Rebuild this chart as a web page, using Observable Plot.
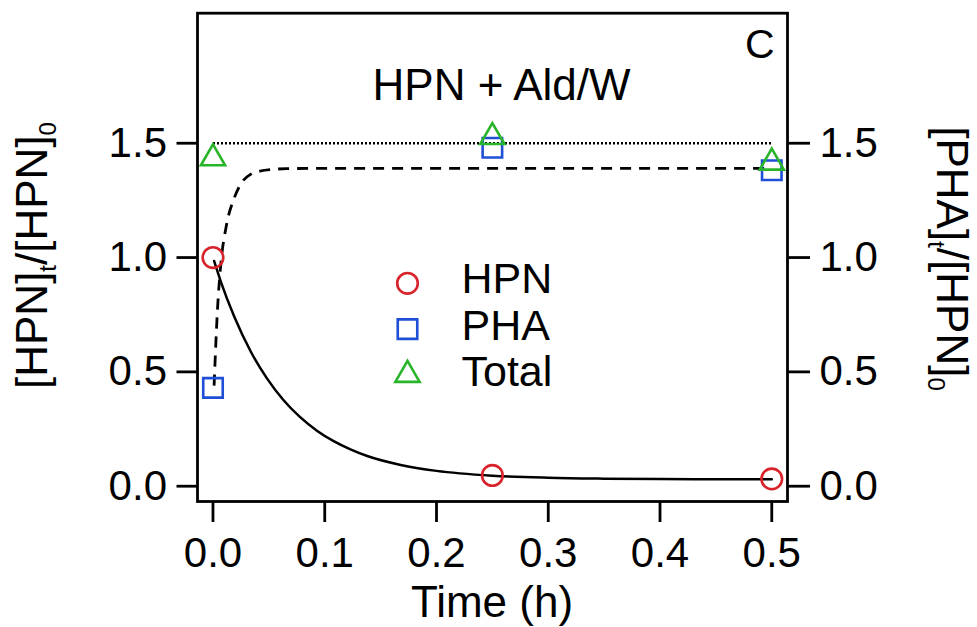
<!DOCTYPE html>
<html>
<head>
<meta charset="utf-8">
<script src="https://cdn.jsdelivr.net/npm/d3@7"></script>
<script src="https://cdn.jsdelivr.net/npm/@observablehq/plot@0.6"></script>
<style>
  html, body { margin: 0; padding: 0; background: #fff; }
  svg { display: block; }
</style>
</head>
<body>
<div id="chart"></div>
<script>
// ---- data ----
const time = [0, 0.25, 0.5];
const hpn = [1.0, 0.047, 0.032];
const pha = [0.43, 1.48, 1.382];
const total = [1.434, 1.527, 1.415];

// fitted curves
const hpnFitT = [0.001, 0.007, 0.019, 0.034, 0.048, 0.063, 0.078, 0.093, 0.108, 0.123, 0.138, 0.168, 0.2, 0.25, 0.3, 0.35, 0.4, 0.45, 0.5];
const hpnFitV = [0.985, 0.895, 0.742, 0.587, 0.474, 0.377, 0.302, 0.243, 0.197, 0.161, 0.132, 0.093, 0.067, 0.046, 0.037, 0.033, 0.031, 0.030, 0.030];
const phaFitT = [0.001, 0.004, 0.007, 0.012, 0.019, 0.026, 0.034, 0.042, 0.055, 0.066, 0.1, 0.2, 0.3, 0.4, 0.5];
const phaFitV = [0.44, 0.77, 0.97, 1.14, 1.26, 1.33, 1.365, 1.378, 1.386, 1.389, 1.39, 1.39, 1.39, 1.39, 1.39];
const totalFitT = [0, 0.5];
const totalFitV = [1.5, 1.5];

const xTicks = [0, 0.1, 0.2, 0.3, 0.4, 0.5];
const yTicks = [0, 0.5, 1.0, 1.5];
const legendLabels = ["HPN", "PHA", "Total"];

// ---- styles ----
const font = "'Liberation Sans', Arial, Helvetica, sans-serif";
const red = "#d8232b", blue = "#1e4fd6", green = "#28b52a";
const symbols = ["circle", "square", "triangle"];
const colors = [red, blue, green];
const radii = [10.3, 11, 9];

const pts = (xs, ys) => xs.map((t, i) => ({t, v: ys[i]}));

const marks = [
  Plot.line(pts(totalFitT, totalFitV), {x: "t", y: "v", stroke: "black", strokeWidth: 2.6, strokeDasharray: "2,2", strokeLinecap: "butt"}),
  Plot.line(pts(phaFitT, phaFitV), {x: "t", y: "v", stroke: "black", strokeWidth: 2.8, strokeDasharray: "11,8", strokeLinecap: "butt", curve: "monotone-x"}),
  Plot.line(pts(hpnFitT, hpnFitV), {x: "t", y: "v", stroke: "black", strokeWidth: 2.5, curve: "monotone-x"}),
  Plot.dot(pts(time, hpn), {x: "t", y: "v", symbol: "circle", r: radii[0], stroke: red, strokeWidth: 2.6, fill: "none"}),
  Plot.dot(pts(time, pha), {x: "t", y: "v", symbol: "square", r: radii[1], stroke: blue, strokeWidth: 2.6, fill: "none"}),
  Plot.dot(pts(time, total), {x: "t", y: "v", symbol: "triangle", r: radii[2], stroke: green, strokeWidth: 2.6, fill: "none"}),
  Plot.frame({stroke: "black", strokeWidth: 2.8}),
  Plot.axisY({anchor: "left", ticks: yTicks, tickFormat: ".1f", tickSize: 20.5, tickPadding: 10, fontSize: 42, strokeWidth: 2.8, label: null}),
  Plot.axisY({anchor: "right", ticks: yTicks, tickFormat: ".1f", tickSize: 22, tickPadding: 10, fontSize: 42, strokeWidth: 2.8, label: null}),
  Plot.axisX({anchor: "bottom", ticks: xTicks, tickFormat: ".1f", tickSize: 21, tickPadding: 15, fontSize: 42, strokeWidth: 2.8, label: null}),
  Plot.text(["HPN + Ald/W"], {text: d => d, frameAnchor: "top-left", lineAnchor: "middle", dx: 304, dy: 73, textAnchor: "middle", fontSize: 44}),
  Plot.text(["C"], {text: d => d, frameAnchor: "top-left", lineAnchor: "middle", dx: 577, dy: 31.4, textAnchor: "end", fontSize: 41})
];

legendLabels.forEach((lab, i) => {
  marks.push(Plot.dot([lab], {frameAnchor: "top-left", dx: 210, dy: 270.1 + 45.8 * i, symbol: symbols[i], r: radii[i], stroke: colors[i], strokeWidth: 2.6, fill: "none"}));
  marks.push(Plot.text([lab], {text: d => d, frameAnchor: "top-left", lineAnchor: "middle", dx: 264, dy: 266.4 + 46.5 * i, textAnchor: "start", fontSize: 43}));
});

const plot = Plot.plot({
  width: 977,
  height: 627,
  marginLeft: 197,
  marginRight: 190,
  marginTop: 12.7,
  marginBottom: 126,
  style: {fontFamily: font, background: "white", color: "black", overflow: "visible"},
  x: {domain: [-0.01385, 0.51407]},
  y: {domain: [-0.0669, 2.0687]},
  marks
});

const svg = d3.select(plot);

function addLabel(transform, parts) {
  const t = svg.append("text")
    .attr("transform", transform)
    .attr("text-anchor", "middle")
    .attr("font-family", font)
    .attr("font-size", 44)
    .attr("fill", "black");
  let shift = 0;
  parts.forEach(([s, sub]) => {
    const target = sub ? 9 : 0;
    t.append("tspan")
      .attr("font-size", sub ? 24 : 44)
      .attr("dy", target - shift)
      .text(s);
    shift = target;
  });
  return t;
}

addLabel("translate(47,255.5) rotate(-90)", [["[HPN]", false], ["t", true], ["/[HPN]", false], ["0", true]]);
addLabel("translate(937,258.5) rotate(90)", [["[PHA]", false], ["t", true], ["/[HPN]", false], ["0", true]]);

svg.append("text")
  .attr("x", 492)
  .attr("y", 617)
  .attr("text-anchor", "middle")
  .attr("font-family", font)
  .attr("font-size", 44)
  .attr("fill", "black")
  .text("Time (h)");

document.getElementById("chart").appendChild(plot);
</script>
</body>
</html>
